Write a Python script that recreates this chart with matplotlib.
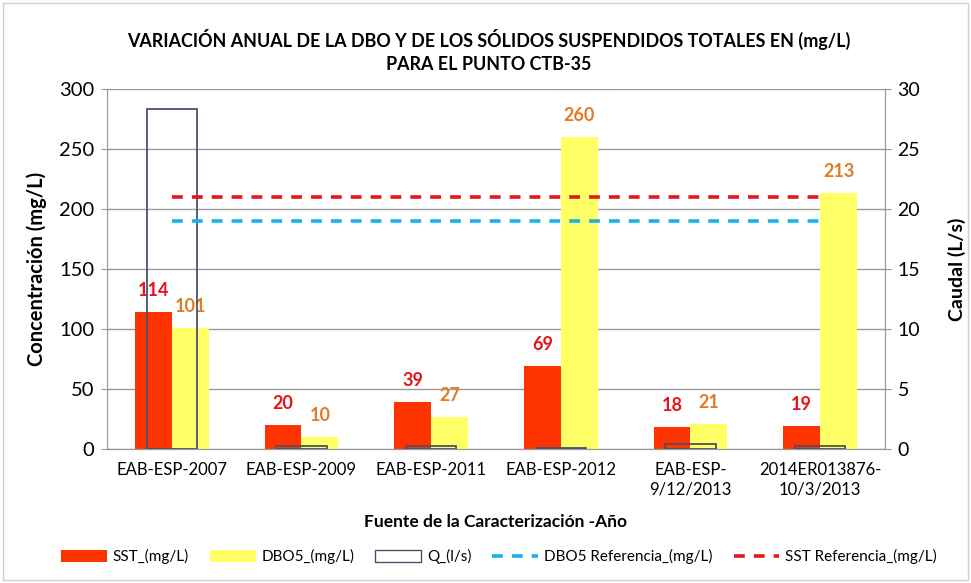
import matplotlib.pyplot as plt
from matplotlib.patches import Patch, Rectangle
from matplotlib.lines import Line2D
import numpy as np

plt.rcParams['font.family'] = ['Lato', 'DejaVu Sans']

categorias = ['EAB-ESP-2007', 'EAB-ESP-2009', 'EAB-ESP-2011', 'EAB-ESP-2012',
              'EAB-ESP-\n9/12/2013', '2014ER013876-\n10/3/2013']
sst = [114, 20, 39, 69, 18, 19]
dbo5 = [101, 10, 27, 260, 21, 213]
caudal = [28.3, 0.25, 0.25, 0.1, 0.45, 0.25]
dbo5_ref = [190] * 6
sst_ref = [210] * 6

c_sst = '#ff3300'
c_dbo = '#ffff66'
c_q = '#44546a'
c_dbo_ref = '#1ab0e8'
c_sst_ref = '#e8151b'

fig = plt.figure(figsize=(9.71, 5.83), dpi=100)
ax = fig.add_axes([0.1102, 0.2298, 0.8012, 0.6175])
ax2 = ax.twinx()

x = np.arange(len(categorias))
w = 0.285
b1 = ax.bar(x - w / 2, sst, w, color=c_sst, zorder=2)
b2 = ax.bar(x + w / 2, dbo5, w, color=c_dbo, zorder=2)

for rect, v in zip(b1, sst):
    ax.annotate(str(v), (rect.get_x() + rect.get_width() / 2, v),
                xytext=(0, 15.5), textcoords='offset points', ha='center',
                va='center', color='#e3141b', fontsize=13, fontweight='bold')
for rect, v in zip(b2, dbo5):
    ax.annotate(str(v), (rect.get_x() + rect.get_width() / 2, v),
                xytext=(0, 15.5), textcoords='offset points', ha='center',
                va='center', color='#e07b28', fontsize=13, fontweight='bold')

ax2.bar(x, caudal, 0.39, facecolor='none', edgecolor=c_q, linewidth=1.3, zorder=2)
ax2.plot(x, dbo5_ref, color=c_dbo_ref, linestyle=(0, (3, 2.5)), linewidth=2.6,
         transform=ax.transData, zorder=3)
ax2.plot(x, sst_ref, color=c_sst_ref, linestyle=(0, (3, 2.5)), linewidth=2.6,
         transform=ax.transData, zorder=3)

ax.set_xlim(-0.5, len(categorias) - 0.5)
ax.set_ylim(0, 300)
ax2.set_ylim(0, 30)
ax.set_yticks(range(0, 301, 50))
ax2.set_yticks(range(0, 31, 5))
ax.set_xticks(x)
ax.set_xticklabels(categorias, fontsize=12, linespacing=1.3)
ax.tick_params(axis='x', length=0, pad=9)
ax.tick_params(axis='y', labelsize=14.5, direction='inout', length=8, color='#999999', pad=5)
ax2.tick_params(axis='y', labelsize=14, direction='inout', length=8, color='#999999', pad=5)
ax.grid(axis='y', color='#999999', linewidth=1, zorder=0)
ax.set_axisbelow(True)

for a in (ax, ax2):
    a.spines['top'].set_visible(False)
    for s in ('left', 'right', 'bottom'):
        a.spines[s].set_color('#999999')

ax.set_ylabel('Concentración (mg/L)', fontsize=14.5, fontweight='bold', labelpad=9)
ax2.set_ylabel('Caudal (L/s)', fontsize=14, fontweight='bold', labelpad=20)
ax.set_xlabel('Fuente de la Caracterización -Año', fontsize=12.5, fontweight='bold', labelpad=12)

fig.text(0.503, 0.913, 'VARIACIÓN ANUAL DE LA DBO Y DE LOS SÓLIDOS SUSPENDIDOS TOTALES EN (mg/L)\nPARA EL PUNTO CTB-35',
         ha='center', va='center', fontsize=12.9, fontweight='bold', linespacing=1.45)

handles = [
    Patch(facecolor=c_sst, label='SST_(mg/L)'),
    Patch(facecolor=c_dbo, label='DBO5_(mg/L)'),
    Patch(facecolor='white', edgecolor=c_q, label='Q_(l/s)'),
    Line2D([0], [0], color=c_dbo_ref, linestyle=(0, (3, 2.5)), linewidth=2.6,
           label='DBO5 Referencia_(mg/L)'),
    Line2D([0], [0], color=c_sst_ref, linestyle=(0, (3, 2.5)), linewidth=2.6,
           label='SST Referencia_(mg/L)'),
]
fig.legend(handles=handles, loc='center', bbox_to_anchor=(0.514, 0.045), ncol=5,
           frameon=False, fontsize=11, handlelength=3.0, handleheight=0.75,
           columnspacing=1.35, handletextpad=0.4)

fig.patches.append(Rectangle((0.003, 0.005), 0.994, 0.99, transform=fig.transFigure,
                             fill=False, edgecolor='#d0d0d0', linewidth=1))

fig.savefig('out.png', dpi=100)
